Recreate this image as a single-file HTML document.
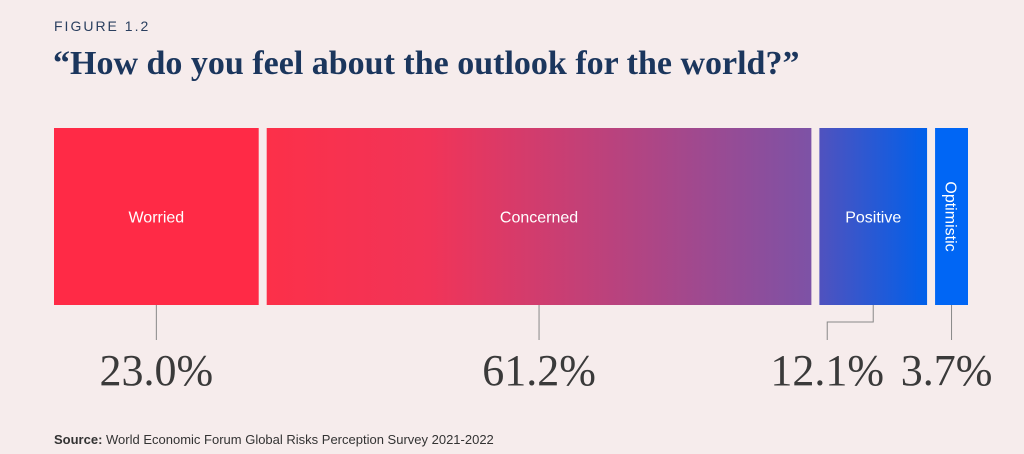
<!DOCTYPE html>
<html><head><meta charset="utf-8"><style>
html,body{margin:0;padding:0;background:#f6ecec;}
body{width:1024px;height:454px;overflow:hidden;position:relative;}
.fig{position:absolute;left:54px;top:18px;font:14px "Liberation Sans",sans-serif;letter-spacing:2px;color:#2a3f5f;}
.title{position:absolute;left:53px;top:45px;font:bold 34px "Liberation Serif",serif;color:#1b365d;}
.src{position:absolute;left:54px;top:432px;font:13px "Liberation Sans",sans-serif;color:#333;}
svg{position:absolute;left:0;top:0;}
</style></head><body>
<div class="fig">FIGURE 1.2</div>
<div class="title">“How do you feel about the outlook for the world?”</div>
<svg id="chart" width="1024" height="454">
<defs>
<linearGradient id="g0" x1="0" x2="1"><stop offset="0" stop-color="#ff2a46"/><stop offset="1" stop-color="#ff2a46"/></linearGradient>
<linearGradient id="g1" x1="0" x2="1"><stop offset="0" stop-color="#fc3049"/><stop offset="0.3" stop-color="#f13458"/><stop offset="1" stop-color="#7d52a6"/></linearGradient>
<linearGradient id="g2" x1="0" x2="1"><stop offset="0" stop-color="#5052be"/><stop offset="1" stop-color="#0060ea"/></linearGradient>
<linearGradient id="g3" x1="0" x2="1"><stop offset="0" stop-color="#0066f5"/><stop offset="1" stop-color="#0066f5"/></linearGradient>
</defs>
</svg>
<div class="src"><b>Source:</b> World Economic Forum Global Risks Perception Survey 2021-2022</div>
<script>
const categories = ["Worried","Concerned","Positive","Optimistic"];
const values = [23.0, 61.2, 12.1, 3.7];
const valueLabels = ["23.0%","61.2%","12.1%","3.7%"];

const svg = document.getElementById('chart');
const NS = "http://www.w3.org/2000/svg";
const xStart = 54, xEnd = 968, gap = 8, barTop = 128, barBot = 305;
const total = values.reduce((a,b)=>a+b,0);
const avail = (xEnd - xStart) - gap*(values.length-1);
const xScale = v => v/total*avail;
const labelShift = [0, 0, -46, -5];
function mk(tag, attrs){const e=document.createElementNS(NS,tag);for(const k in attrs)e.setAttribute(k,attrs[k]);svg.appendChild(e);return e;}
let cursor = xStart;
values.forEach((v,i)=>{
  const w = xScale(v);
  const r = mk('rect',{x:cursor,y:barTop,width:w,height:barBot-barTop,fill:'url(#g'+i+')'});
  
  
  const cx = cursor + w/2;
  let t;
  if (w > 60) {
    t = mk('text',{x:cx,y:barTop+(barBot-barTop)/2+6,'text-anchor':'middle',fill:'#fff','font-family':'Liberation Sans, sans-serif','font-size':16});
  } else {
    t = mk('text',{x:0,y:0,'text-anchor':'middle',fill:'#fff','font-family':'Liberation Sans, sans-serif','font-size':16,transform:'translate('+(cx-6)+','+(barTop+(barBot-barTop)/2)+') rotate(90)'});
  }
  t.textContent = categories[i];
  
  
  const lx = cx + labelShift[i];
  let d;
  if (Math.abs(labelShift[i]) > 10) d = 'M'+cx+' '+barBot+' V322 H'+lx+' V340';
  else d = 'M'+cx+' '+barBot+' V340';
  const ln = mk('path',{d:d,stroke:'#888',fill:'none','stroke-width':1});
  
  
  const vt = mk('text',{x:lx,y:385,'text-anchor':'middle',fill:'#3a3a3a','font-family':'Liberation Serif, serif','font-size':44});
  vt.textContent = valueLabels[i];
  
  
  cursor += w + gap;
});
</script>
</body></html>
